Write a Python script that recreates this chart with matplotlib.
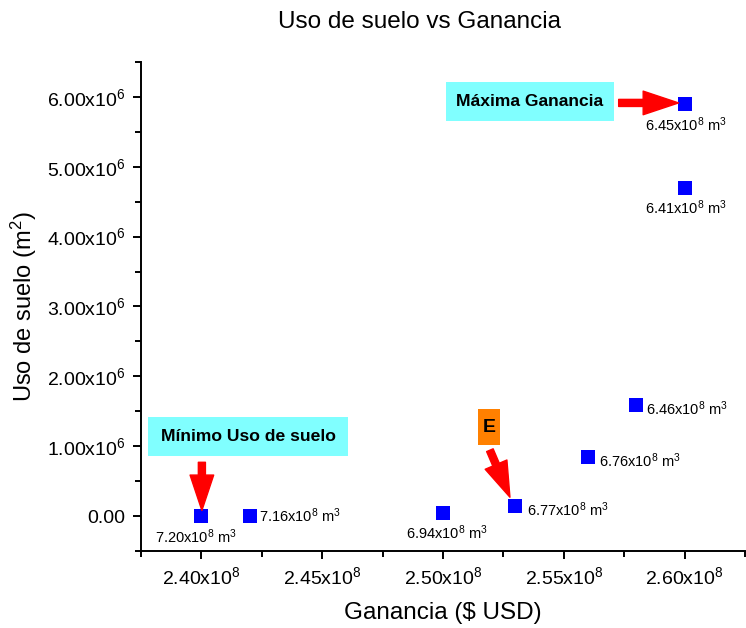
import matplotlib
matplotlib.use("Agg")
import matplotlib.pyplot as plt
from matplotlib.patches import Rectangle, FancyArrowPatch
from matplotlib.ticker import MultipleLocator

plt.rcParams['font.family'] = ['Liberation Sans', 'DejaVu Sans']
plt.rcParams['mathtext.fontset'] = 'custom'
plt.rcParams['mathtext.rm'] = 'Liberation Sans'
plt.rcParams['mathtext.it'] = 'Liberation Sans'
plt.rcParams['mathtext.bf'] = 'Liberation Sans:bold'
plt.rcParams['mathtext.default'] = 'regular'

# Data
ganancia = [2.40e8, 2.42e8, 2.50e8, 2.53e8, 2.56e8, 2.58e8, 2.60e8, 2.60e8]
uso_suelo = [0.0, 0.0, 0.05e6, 0.15e6, 0.85e6, 1.59e6, 4.70e6, 5.90e6]
agua = ["7.20", "7.16", "6.94", "6.77", "6.76", "6.46", "6.41", "6.45"]

x_ticks = [2.40e8, 2.45e8, 2.50e8, 2.55e8, 2.60e8]
x_tick_labels = ["2.40x10$^8$", "2.45x10$^8$", "2.50x10$^8$", "2.55x10$^8$", "2.60x10$^8$"]
y_ticks = [0, 1e6, 2e6, 3e6, 4e6, 5e6, 6e6]
y_tick_labels = ["0.00", "1.00x10$^6$", "2.00x10$^6$", "3.00x10$^6$",
                 "4.00x10$^6$", "5.00x10$^6$", "6.00x10$^6$"]

# label offsets in points (dx, dy) and alignment per point
label_pos = [(-4, -8, 'center', 'top'),
             (7, 0, 'left', 'center'),
             (3, -8, 'center', 'top'),
             (8, -3, 'left', 'center'),
             (8, -3, 'left', 'center'),
             (7, -3, 'left', 'center'),
             (1, -8, 'center', 'top'),
             (1, -8, 'center', 'top')]

fig = plt.figure(figsize=(7.46, 6.28), dpi=100)
ax = fig.add_axes([0.189, 0.1226, 0.8097, 0.7787])

ax.scatter(ganancia, uso_suelo, marker='s', s=95, color='#0000FF', zorder=3, linewidths=0)

for x, y, a, (dx, dy, ha, va) in zip(ganancia, uso_suelo, agua, label_pos):
    ax.annotate(a + "x10$^8$ m$^3$", (x, y), xytext=(dx, dy), textcoords='offset points',
                ha=ha, va=va, fontsize=10.5)

ax.set_xlim(2.375e8, 2.625e8)
ax.set_ylim(-0.5e6, 6.5e6)
ax.set_xticks(x_ticks)
ax.set_xticklabels(x_tick_labels, fontsize=14)
ax.set_yticks(y_ticks)
ax.set_yticklabels(y_tick_labels, fontsize=14)
ax.xaxis.set_minor_locator(MultipleLocator(0.025e8))
ax.yaxis.set_minor_locator(MultipleLocator(0.5e6))
ax.tick_params(which='major', direction='out', length=6, width=1.4, pad=5)
ax.tick_params(which='minor', direction='out', length=4, width=1.4)
for s in ['top', 'right']:
    ax.spines[s].set_visible(False)
for s in ['left', 'bottom']:
    ax.spines[s].set_linewidth(1.4)

ax.set_xlabel("Ganancia ($ USD)", fontsize=17.5, labelpad=10)
ax.set_ylabel("Uso de suelo (m$^2$)", fontsize=17, labelpad=6)
fig.text(0.563, 0.965, "Uso de suelo vs Ganancia", ha='center', va='center', fontsize=17.5)

# Annotation boxes
def box(x0, x1, y0, y1, color, text, fs):
    ax.add_patch(Rectangle((x0, y0), x1 - x0, y1 - y0, facecolor=color, edgecolor='none', zorder=2))
    ax.text((x0 + x1) / 2, (y0 + y1) / 2, text, ha='center', va='center',
            fontsize=fs, fontweight='bold', zorder=4)

box(2.5012e8, 2.5707e8, 5.657e6, 6.214e6, '#80FFFF', "Máxima Ganancia", 12.6)
box(2.3781e8, 2.4607e8, 0.857e6, 1.414e6, '#80FFFF', "Mínimo Uso de suelo", 12.6)
box(2.5145e8, 2.5236e8, 1.014e6, 1.529e6, '#FF8000', "E", 14)

def arrow(p0, p1):
    ax.add_patch(FancyArrowPatch(p0, p1, arrowstyle='simple,head_length=1.5,head_width=1.0,tail_width=0.3',
                                 mutation_scale=17, color='#FF0000', zorder=4, shrinkA=0, shrinkB=0))

arrow((2.5727e8, 5.914e6), (2.5975e8, 5.914e6))
arrow((2.4002e8, 0.77e6), (2.4002e8, 0.08e6))
arrow((2.5194e8, 0.943e6), (2.5277e8, 0.27e6))

fig.savefig("out.png", dpi=100)
